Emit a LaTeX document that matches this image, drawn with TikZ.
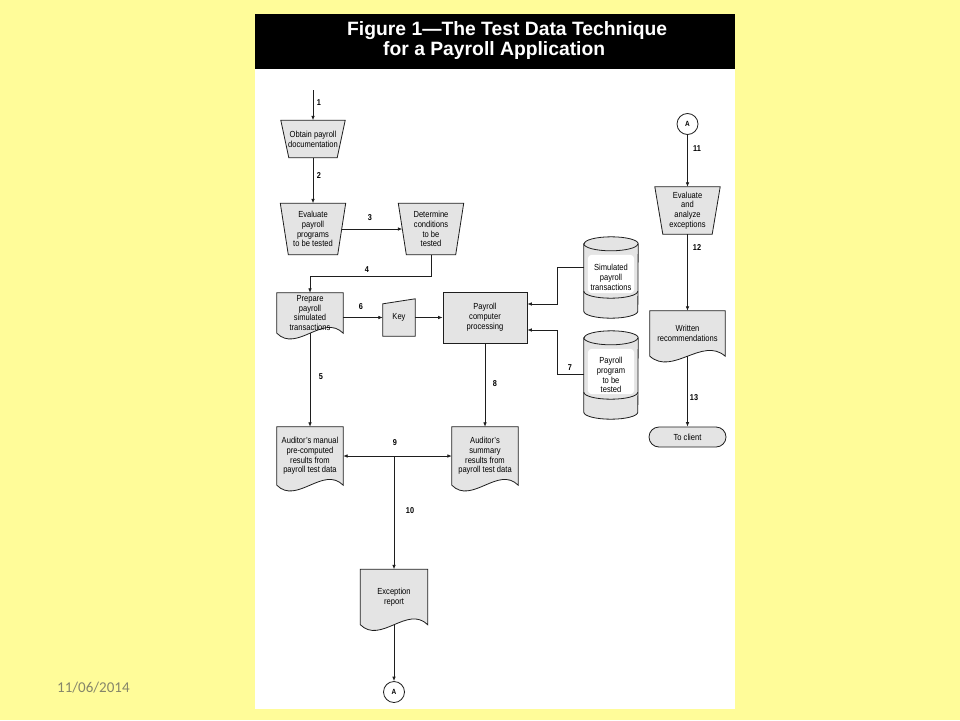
\documentclass[tikz,border=0pt]{standalone}
\usepackage{fontspec}
\setmainfont{Liberation Sans}
\newfontfamily\nodefont[FakeStretch=0.86]{Liberation Sans}
\newfontfamily\datefont{Carlito}
\usetikzlibrary{arrows.meta,calc,shapes.misc}
\definecolor{bgyellow}{HTML}{FFFC99}
\definecolor{linec}{HTML}{1E1E1E}
\definecolor{shapegray}{HTML}{E4E4E4}
\definecolor{dategray}{HTML}{85856A}
\pgfdeclarelayer{bg}
\pgfdeclarelayer{shapes}
\pgfsetlayers{bg,shapes,main}
\newcommand{\docpath}[1]{%
  \filldraw[shp] (#1.north west) -- (#1.north east) -- (#1.south east)
    .. controls ($(#1.south east)!0.3!(#1.south west)+(0,-20)$) and ($(#1.south east)!0.7!(#1.south west)+(0,20)$) .. (#1.south west) -- cycle;}
\newcommand{\trappath}[1]{%
  \filldraw[shp] ([xshift=-4pt]#1.north west) -- ([xshift=4pt]#1.north east) -- ([xshift=-4pt]#1.south east) -- ([xshift=4pt]#1.south west) -- cycle;}
\newcommand{\cylpath}[1]{%
  \filldraw[shp] ([yshift=-7pt]#1.north west) -- ([yshift=7pt]#1.south west) arc[start angle=180,end angle=360,x radius=27pt,y radius=7pt] -- ([yshift=-7pt]#1.north east) arc[start angle=0,end angle=180,x radius=27pt,y radius=7pt] -- cycle;
  \fill[white, rounded corners=4pt] ([xshift=4pt,yshift=-18pt]#1.north west) rectangle ([xshift=-4pt,yshift=25pt]#1.south east);
  \draw[ln] ([yshift=-7pt]#1.north west) arc[start angle=180,end angle=360,x radius=27pt,y radius=7pt];
  \draw[ln] ([yshift=27pt]#1.south west) arc[start angle=180,end angle=360,x radius=27pt,y radius=7pt];}
\begin{document}
\begin{tikzpicture}[x=1pt,y=-1pt,
  ln/.style={draw=linec, line width=0.8pt},
  arr/.style={ln, -{Latex[length=4.5pt,width=3.6pt]}},
  biarr/.style={ln, {Latex[length=4.5pt,width=3.6pt]}-{Latex[length=4.5pt,width=3.6pt]}},
  shp/.style={draw=linec, fill=shapegray, line width=0.8pt},
  txt/.style={font=\nodefont\fontsize{8.8}{9.8}\selectfont, align=center, inner sep=0pt, text=black},
  lab/.style={font=\nodefont\bfseries\fontsize{8.5}{9}\selectfont, inner sep=0pt},
  conn/.style={circle, draw=linec, fill=white, line width=0.8pt, minimum size=21pt, inner sep=0pt, font=\nodefont\bfseries\fontsize{7.5}{8}\selectfont},
  titlef/.style={anchor=base west, text=white, inner sep=0pt, font=\bfseries\fontsize{19.3}{22}\selectfont}]
\useasboundingbox (0,0) rectangle (960,720);

% title
\node[titlef] (t1) at (347,35) {Figure 1—The Test Data Technique};
\node[titlef] (t2) at (383,55.5) {for a Payroll Application};
\node[anchor=west, inner sep=0pt, text=dategray, font=\datefont\fontsize{15}{18}\selectfont] (date) at (57,688) {11/06/2014};

% nodes
\coordinate (s1) at (313,90);
\node[txt, minimum width=56pt, minimum height=37pt] (obtain) at (313,139) {Obtain payroll\\documentation};
\node[txt, minimum width=57pt, minimum height=51pt] (evalprog) at (313,229) {Evaluate\\payroll\\programs\\to be tested};
\node[txt, minimum width=57pt, minimum height=51pt] (determine) at (431,229) {Determine\\conditions\\to be\\tested};
\node[txt, minimum width=66pt, minimum height=40pt] (prep) at (310,313) {Prepare\\payroll\\simulated\\transactions};
\node[txt, minimum width=32pt, minimum height=37pt] (key) at (399,317.5) {Key};
\node[txt, shp, rectangle, minimum width=84pt, minimum height=51pt] (box) at (485,317.5) {Payroll\\computer\\processing};
\node[txt, minimum width=54pt, minimum height=81pt] (cyl1) at (611,277.5) {Simulated\\payroll\\transactions};
\node[txt, minimum width=54pt, minimum height=88pt] (cyl2) at (611,375) {Payroll\\program\\to be\\tested};
\node[txt, minimum width=66pt, minimum height=58pt] (manual) at (310,456) {Auditor’s manual\\pre-computed\\results from\\payroll test data};
\node[txt, minimum width=66pt, minimum height=58pt] (summary) at (485,456) {Auditor’s\\summary\\results from\\payroll test data};
\node[txt, minimum width=67pt, minimum height=55pt] (exc) at (394,597) {Exception\\report};
\node[conn] (Ab) at (394,692) {A};
\node[conn] (At) at (687.5,124) {A};
\node[txt, minimum width=57pt, minimum height=47pt] (evalx) at (687.5,210.5) {Evaluate\\and\\analyze\\exceptions};
\node[txt, minimum width=75pt, minimum height=45pt] (written) at (687.5,333.5) {Written\\recommendations};
\node[txt, shp, rounded rectangle, minimum width=77pt, minimum height=20pt] (client) at (687.5,437) {To client};

% connectors
\draw[arr] (s1) -- (obtain.north);
\draw[arr] (obtain.south) -- (evalprog.north);
\draw[arr] (evalprog.east) -- (determine.west);
\draw[arr] (determine.south) -- ++(0,22) -| (prep.north);
\draw[arr] (prep.east |- key.west) -- (key.west);
\draw[arr] (key.east) -- (box.west);
\draw[arr] ([yshift=10.5pt]cyl1.west) -- ++(-26,0) |- ([yshift=13.5pt]box.east);
\draw[arr] ([yshift=1pt]cyl2.west) -- ++(-26,0) |- ([yshift=-12.5pt]box.east);
\draw[arr] (prep.south) -- (manual.north);
\draw[arr] (box.south) -- (summary.north);
\draw[biarr] (manual.east) -- (summary.west);
\draw[arr] (exc.north |- manual.east) -- (exc.north);
\draw[arr] (exc.south) -- (Ab.north);
\draw[arr] (At.south) -- (evalx.north);
\draw[arr] (evalx.south) -- (written.north);
\draw[arr] (written.south) -- (client.north);

% labels
\node[lab] (n1) at (319,103) {1};
\node[lab] (n2) at (319,176) {2};
\node[lab] (n3) at (370,218) {3};
\node[lab] (n4) at (367,270) {4};
\node[lab] (n5) at (321,377) {5};
\node[lab] (n6) at (361,307) {6};
\node[lab] (n7) at (570,368) {7};
\node[lab] (n8) at (495,384) {8};
\node[lab] (n9) at (395,443) {9};
\node[lab] (n10) at (410,511) {10};
\node[lab] (n11) at (697,149) {11};
\node[lab] (n12) at (697,248) {12};
\node[lab] (n13) at (694,398) {13};

% shapes
\begin{pgfonlayer}{shapes}
  \trappath{obtain}
  \trappath{evalprog}
  \trappath{determine}
  \trappath{evalx}
  \docpath{prep}
  \docpath{manual}
  \docpath{summary}
  \docpath{exc}
  \docpath{written}
  \filldraw[shp] (key.south west) -- (key.south east) -- (key.north east) -- ([yshift=-5pt]key.north west) -- cycle;
  \cylpath{cyl1}
  \cylpath{cyl2}
\end{pgfonlayer}

% background
\begin{pgfonlayer}{bg}
  \fill[bgyellow] (0,0) rectangle (960,720);
  \fill[white] (255,14) rectangle (735,709);
  \fill[black] (255,14) rectangle (735,69);
\end{pgfonlayer}
\end{tikzpicture}
\end{document}
